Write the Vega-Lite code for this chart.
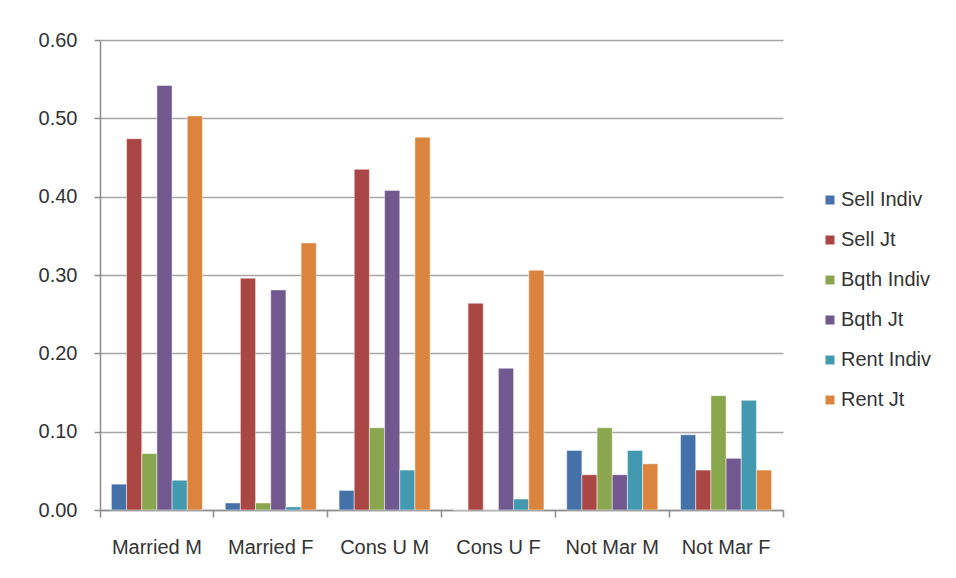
{
  "$schema": "https://vega.github.io/schema/vega-lite/v6.json",
  "width": 683,
  "height": 470,
  "autosize": {"type": "none"},
  "padding": {"left": 100, "top": 40, "right": 173, "bottom": 68},
  "background": "white",
  "config": {
    "font": "Liberation Sans",
    "view": {"stroke": null},
    "axis": {
      "labelFont": "Liberation Sans",
      "labelFontSize": 20,
      "labelColor": "#333333",
      "domainColor": "#8c8c8c",
      "tickColor": "#8c8c8c",
      "gridColor": "#a6a6a6",
      "domainWidth": 1.5,
      "tickWidth": 1.5,
      "gridWidth": 1.5
    }
  },
  "data": {
    "values": [
      {"group": "Married M", "type": "Sell Indiv", "share": 0.033},
      {"group": "Married M", "type": "Sell Jt", "share": 0.474},
      {"group": "Married M", "type": "Bqth Indiv", "share": 0.072},
      {"group": "Married M", "type": "Bqth Jt", "share": 0.542},
      {"group": "Married M", "type": "Rent Indiv", "share": 0.038},
      {"group": "Married M", "type": "Rent Jt", "share": 0.503},
      {"group": "Married F", "type": "Sell Indiv", "share": 0.009},
      {"group": "Married F", "type": "Sell Jt", "share": 0.296},
      {"group": "Married F", "type": "Bqth Indiv", "share": 0.009},
      {"group": "Married F", "type": "Bqth Jt", "share": 0.281},
      {"group": "Married F", "type": "Rent Indiv", "share": 0.004},
      {"group": "Married F", "type": "Rent Jt", "share": 0.341},
      {"group": "Cons U M", "type": "Sell Indiv", "share": 0.025},
      {"group": "Cons U M", "type": "Sell Jt", "share": 0.435},
      {"group": "Cons U M", "type": "Bqth Indiv", "share": 0.105},
      {"group": "Cons U M", "type": "Bqth Jt", "share": 0.408},
      {"group": "Cons U M", "type": "Rent Indiv", "share": 0.051},
      {"group": "Cons U M", "type": "Rent Jt", "share": 0.476},
      {"group": "Cons U F", "type": "Sell Indiv", "share": 0},
      {"group": "Cons U F", "type": "Sell Jt", "share": 0.264},
      {"group": "Cons U F", "type": "Bqth Indiv", "share": 0},
      {"group": "Cons U F", "type": "Bqth Jt", "share": 0.181},
      {"group": "Cons U F", "type": "Rent Indiv", "share": 0.014},
      {"group": "Cons U F", "type": "Rent Jt", "share": 0.306},
      {"group": "Not Mar M", "type": "Sell Indiv", "share": 0.076},
      {"group": "Not Mar M", "type": "Sell Jt", "share": 0.045},
      {"group": "Not Mar M", "type": "Bqth Indiv", "share": 0.105},
      {"group": "Not Mar M", "type": "Bqth Jt", "share": 0.045},
      {"group": "Not Mar M", "type": "Rent Indiv", "share": 0.076},
      {"group": "Not Mar M", "type": "Rent Jt", "share": 0.059},
      {"group": "Not Mar F", "type": "Sell Indiv", "share": 0.096},
      {"group": "Not Mar F", "type": "Sell Jt", "share": 0.051},
      {"group": "Not Mar F", "type": "Bqth Indiv", "share": 0.146},
      {"group": "Not Mar F", "type": "Bqth Jt", "share": 0.066},
      {"group": "Not Mar F", "type": "Rent Indiv", "share": 0.140},
      {"group": "Not Mar F", "type": "Rent Jt", "share": 0.051}
    ]
  },
  "mark": {"type": "bar", "stroke": "#ffffff", "strokeOpacity": 0.6, "strokeWidth": 0.8},
  "encoding": {
    "x": {
      "field": "group",
      "type": "nominal",
      "sort": null,
      "scale": {"paddingInner": 0, "paddingOuter": 0},
      "axis": {
        "title": null,
        "labelAngle": 0,
        "bandPosition": 1,
        "tickExtra": true,
        "tickSize": 7,
        "labelPadding": 20,
        "grid": false
      }
    },
    "xOffset": {
      "field": "type",
      "type": "nominal",
      "sort": ["Sell Indiv", "Sell Jt", "Bqth Indiv", "Bqth Jt", "Rent Indiv", "Rent Jt"],
      "scale": {"paddingInner": 0, "paddingOuter": 0.75}
    },
    "y": {
      "field": "share",
      "type": "quantitative",
      "scale": {"domain": [0, 0.6], "nice": false},
      "axis": {
        "title": null,
        "values": [0, 0.1, 0.2, 0.3, 0.4, 0.5, 0.6],
        "format": ".2f",
        "tickSize": 6,
        "labelPadding": 17,
        "grid": true
      }
    },
    "color": {
      "field": "type",
      "type": "nominal",
      "sort": ["Sell Indiv", "Sell Jt", "Bqth Indiv", "Bqth Jt", "Rent Indiv", "Rent Jt"],
      "scale": {
        "domain": ["Sell Indiv", "Sell Jt", "Bqth Indiv", "Bqth Jt", "Rent Indiv", "Rent Jt"],
        "range": ["#4472a8", "#aa4644", "#8aa64f", "#71588f", "#4299b0", "#db843d"]
      },
      "legend": {
        "title": null,
        "orient": "none",
        "legendX": 720,
        "legendY": 150,
        "symbolType": "square",
        "symbolSize": 81,
        "symbolStrokeWidth": 0,
        "labelFont": "Liberation Sans",
        "labelFontSize": 20,
        "labelColor": "#333333",
        "labelOffset": 1,
        "rowPadding": 20
      }
    }
  }
}
